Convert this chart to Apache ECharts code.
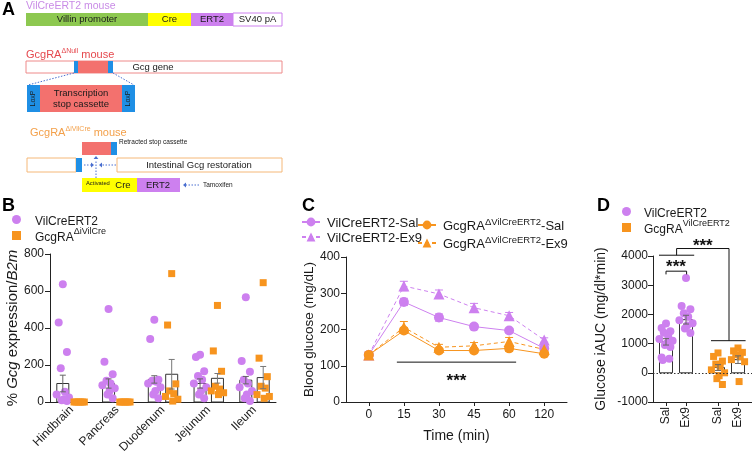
<!DOCTYPE html>
<html>
<head>
<meta charset="utf-8">
<script src="https://cdn.jsdelivr.net/npm/echarts@6/dist/echarts.min.js"></script>
<style>
  html, body { margin: 0; padding: 0; background: #fff; }
  #main { width: 752px; height: 457px; }
</style>
</head>
<body>
<div id="main"></div>
<script>
// ---- panel B: Gcg expression by region ----
const regions = ['Hindbrain', 'Pancreas', 'Duodenum', 'Jejunum', 'Ileum'];
const bVilMean = [100, 100, 122, 100, 118];
const bVilSem = [45, 25, 20, 25, 20];
const bGcgMean = [0, 0, 150, 128, 132];
const bGcgSem = [0, 0, 80, 26, 60];
const bVilPoints = [
  [636, 430, 270, 182, 55, 40, 25, 15, 10, 5],
  [503, 218, 150, 115, 100, 90, 75, 60, 40, 20],
  [444, 340, 120, 115, 110, 100, 80, 60, 40, 20],
  [256, 243, 166, 140, 120, 100, 80, 60, 40, 20],
  [566, 221, 164, 120, 100, 80, 60, 40, 20, 5]
];
const bGcgPoints = [
  [0, 0, 0, 0, 0, 0],
  [0, 0, 0, 0, 0, 0],
  [694, 416, 98, 60, 45, 30, 15, 5],
  [522, 276, 166, 85, 70, 60, 50, 40],
  [645, 237, 137, 85, 75, 40, 30, 20]
];

// ---- panel C: glucose tolerance ----
const times = ['0', '15', '30', '45', '60', '120'];
const vilSal = [130, 276, 233, 208, 197, 148];
const vilSalSem = [5, 10, 10, 7, 6, 5];
const vilEx9 = [130, 320, 298, 260, 238, 171];
const vilEx9Sem = [5, 13, 11, 12, 9, 6];
const gcgSal = [130, 197, 142, 142, 148, 133];
const gcgSalSem = [5, 8, 6, 6, 8, 5];
const gcgEx9 = [130, 206, 151, 155, 167, 145];
const gcgEx9Sem = [5, 16, 8, 9, 11, 6];

// ---- panel D: glucose iAUC ----
const dLabels = ['Sal', 'Ex9', 'Sal', 'Ex9'];
const dMean = [1060, 1820, 180, 450];
const dSem = [110, 150, 100, 130];
const dPoints = [
  [1690, 1530, 1420, 1370, 1260, 1160, 1100, 1020, 950, 880, 520, 480, 440],
  [3250, 2290, 2180, 2040, 1920, 1800, 1700, 1620, 1520, 1360],
  [680, 560, 400, 300, 220, 100, 0, -100, -200, -400],
  [850, 750, 700, 620, 550, 450, 380, -300]
];

const FONT = 'Liberation Sans, Arial, Helvetica, sans-serif';
const VIOLET = '#CD80EF';
const ORANGE = '#F7941E';
const BLUE = '#1F8FE5';
const SALMON = '#F3716E';
const INK = '#1a1a1a';
const DOT = '#4A6FD0';

// x slots on the value axes (group offsets inside a category)
const bOff = [-0.19, 0.19];
const dPos = [0, 1, 2.6, 3.6];
const JIT = [0, -1, 1, -0.5, 0.5, -1.5, 1.5, 0.25, -0.25, 1, -1, 0.75, -0.75];

// ---------- panel A diagram helpers ----------
function rect(x, y, w, h, fill, stroke) {
  return { type: 'rect', shape: { x: x, y: y, width: w, height: h }, style: { fill: fill, stroke: stroke || null, lineWidth: 1 } };
}
function txt(x, y, text, size, align, extra) {
  return Object.assign({
    type: 'text', x: x, y: y,
    style: { text: text, fontSize: size, fontFamily: FONT, fill: INK, align: align || 'left', verticalAlign: 'middle' }
  }, extra || {});
}
function dots(x1, y1, x2, y2) {
  return { type: 'line', shape: { x1: x1, y1: y1, x2: x2, y2: y2 }, style: { stroke: DOT, lineWidth: 1, lineDash: [1.5, 1.5] } };
}
function head(x, y, dir) {
  const s = 3;
  let pts;
  if (dir === 'left') pts = [[x, y], [x + s, y - 2.4], [x + s, y + 2.4]];
  if (dir === 'right') pts = [[x, y], [x - s, y - 2.4], [x - s, y + 2.4]];
  if (dir === 'up') pts = [[x, y], [x - 2.4, y + s], [x + 2.4, y + s]];
  return { type: 'polygon', shape: { points: pts }, style: { fill: DOT } };
}
function supTitle(x, y, base, sup, tail, color) {
  return {
    type: 'text', x: x, y: y,
    style: {
      text: '{b|' + base + '}{s|' + sup + '}{b|' + tail + '}',
      fontFamily: FONT, fill: color, verticalAlign: 'middle',
      rich: {
        b: { fontSize: 11, fill: color, fontFamily: FONT, lineHeight: 12, verticalAlign: 'bottom' },
        s: { fontSize: 7, fill: color, fontFamily: FONT, lineHeight: 8, verticalAlign: 'top' }
      }
    }
  };
}
function letter(x, y, t) {
  return { type: 'text', x: x, y: y, style: { text: t, fontSize: 18, fontWeight: 'bold', fontFamily: FONT, fill: '#000' } };
}

const vilParts = [
  { label: 'Villin promoter', w: 122, fill: '#8DC850' },
  { label: 'Cre', w: 43, fill: '#FFFF00' },
  { label: 'ERT2', w: 42, fill: VIOLET },
  { label: 'SV40 pA', w: 49, fill: '#FFFFFF' }
];

const diagram = [letter(2, 1, 'A'), letter(2, 197, 'B'), letter(302, 197, 'C'), letter(597, 197, 'D')];
diagram.push({ type: 'text', x: 26, y: 6.5, style: { text: 'VilCreERT2 mouse', fontSize: 10.5, fontFamily: FONT, fill: '#C98BE6', verticalAlign: 'middle' } });
let px = 26;
vilParts.forEach(function (p) {
  diagram.push(rect(px, 13, p.w, 13, p.fill, p.fill === '#FFFFFF' ? VIOLET : null));
  diagram.push(txt(px + p.w / 2, 19.5, p.label, 9.5, 'center'));
  px += p.w;
});
diagram.push(
  supTitle(26, 54, 'GcgRA', 'ΔNull', ' mouse', '#E5484D'),
  rect(26, 61, 256, 12, '#fff', '#EE8A8A'),
  rect(74, 61, 4, 12, BLUE), rect(78, 61, 30, 12, SALMON), rect(108, 61, 5, 12, BLUE),
  txt(153, 67, 'Gcg gene', 9.5, 'center'),
  dots(74, 73, 28, 85), dots(113, 73, 134, 85),
  rect(27, 85, 13, 27, BLUE), rect(40, 85, 82, 27, SALMON), rect(122, 85, 13, 27, BLUE),
  txt(81, 93.5, 'Transcription', 9.5, 'center'), txt(81, 104.5, 'stop cassette', 9.5, 'center'),
  txt(33.5, 98.5, 'LoxP', 7, 'center', { rotation: Math.PI / 2 }),
  txt(128.5, 98.5, 'LoxP', 7, 'center', { rotation: Math.PI / 2 }),
  supTitle(30, 132, 'GcgRA', 'ΔiVilCre', ' mouse', '#F3A04A'),
  rect(82, 142, 29, 13, SALMON), rect(111, 142, 6, 13, BLUE),
  txt(119, 142.5, 'Retracted stop cassette', 6.5),
  rect(27, 158, 49, 14, '#fff', '#F5B878'), rect(76, 158, 6, 14, BLUE),
  rect(117, 158, 165, 14, '#fff', '#F5B878'),
  txt(199, 165, 'Intestinal Gcg restoration', 9.5, 'center'),
  dots(84, 165, 91, 165), head(94, 165, 'right'),
  dots(116, 165, 102, 165), head(99, 165, 'left'),
  dots(96, 178, 96, 160), head(96, 156, 'up'),
  rect(82, 178, 55, 14, '#FFFF00'), rect(137, 178, 43, 14, VIOLET),
  txt(86, 183, 'Activated', 5.8), txt(123, 185.5, 'Cre', 9.5, 'center'), txt(158, 185, 'ERT2', 9.5, 'center'),
  dots(199, 185, 186, 185), head(183, 185, 'left'),
  txt(203, 185, 'Tamoxifen', 6.5)
);

// ---------- chart helpers ----------
function boxSeries(ai, data, halfW) {
  return {
    type: 'custom', xAxisIndex: ai, yAxisIndex: ai, z: 1, silent: true, data: data,
    renderItem: function (params, api) {
      const p0 = api.coord([api.value(0), 0]);
      const p1 = api.coord([api.value(0), api.value(1)]);
      return {
        type: 'rect',
        shape: { x: p0[0] - halfW, y: Math.min(p0[1], p1[1]), width: halfW * 2, height: Math.abs(p1[1] - p0[1]) },
        style: { fill: '#fff', stroke: '#333', lineWidth: 1 }
      };
    }
  };
}
function errSeries(ai, data, color, cap, z) {
  return {
    type: 'custom', xAxisIndex: ai, yAxisIndex: ai, z: z || 5, silent: true, data: data,
    renderItem: function (params, api) {
      const x = api.value(0), m = api.value(1), s = api.value(2);
      if (!s) return null;
      const hi = api.coord([x, m + s]), lo = api.coord([x, m - s]);
      const st = { stroke: color, lineWidth: 1 };
      return {
        type: 'group', children: [
          { type: 'line', shape: { x1: hi[0], y1: hi[1], x2: lo[0], y2: lo[1] }, style: st },
          { type: 'line', shape: { x1: hi[0] - cap, y1: hi[1], x2: hi[0] + cap, y2: hi[1] }, style: st },
          { type: 'line', shape: { x1: lo[0] - cap, y1: lo[1], x2: lo[0] + cap, y2: lo[1] }, style: st }
        ]
      };
    }
  };
}
// significance marks: segments [[x1,y1,x2,y2],...] and stars [x,y] in data units
function sigSeries(ai, segs, stars) {
  return {
    type: 'custom', xAxisIndex: ai, yAxisIndex: ai, z: 6, silent: true, data: [0],
    renderItem: function (params, api) {
      const kids = segs.map(function (s) {
        const a = api.coord([s[0], s[1]]), b = api.coord([s[2], s[3]]);
        return { type: 'line', shape: { x1: a[0], y1: a[1], x2: b[0], y2: b[1] }, style: { stroke: '#111', lineWidth: 1 } };
      });
      stars.forEach(function (s) {
        const c = api.coord(s);
        kids.push({ type: 'text', x: c[0], y: c[1] + 4, style: { text: '***', fontSize: 17, fontWeight: 'bold', fontFamily: FONT, fill: '#111', align: 'center', verticalAlign: 'middle' } });
      });
      return { type: 'group', children: kids };
    }
  };
}

const axisLineStyle = { color: '#222', width: 1 };
const tickLabel = { fontSize: 12, color: INK, fontFamily: FONT };
const plainNum = function (v) { return String(v); };

const legendRich = {
  b: { fontSize: 12, fontFamily: FONT, color: INK, lineHeight: 16, verticalAlign: 'bottom' },
  s: { fontSize: 9, fontFamily: FONT, color: INK, lineHeight: 10, verticalAlign: 'top' },
  c: { fontSize: 13, fontFamily: FONT, color: INK, lineHeight: 16, verticalAlign: 'bottom' },
  cs: { fontSize: 9.5, fontFamily: FONT, color: INK, lineHeight: 10, verticalAlign: 'top' }
};
const legendText = {
  'VilCreERT2': '{b|VilCreERT2}',
  'GcgRA-iVil': '{b|GcgRA}{s|ΔiVilCre}',
  'GcgRA-VilERT2': '{b|GcgRA}{s|VilCreERT2}',
  'VilCreERT2-Sal': '{c|VilCreERT2-Sal}',
  'VilCreERT2-Ex9': '{c|VilCreERT2-Ex9}',
  'Gcg-Sal': '{c|GcgRA}{cs|ΔVilCreERT2}{c|-Sal}',
  'Gcg-Ex9': '{c|GcgRA}{cs|ΔVilCreERT2}{c|-Ex9}'
};
function legend(left, top, items, iw, ih, gap, padLeft) {
  return {
    left: left, top: top, orient: 'vertical', itemWidth: iw, itemHeight: ih, itemGap: gap,
    selectedMode: false, data: items, padding: 0,
    formatter: function (n) { return legendText[n]; },
    textStyle: { fontFamily: FONT, color: INK, padding: [0, 0, 0, padLeft], rich: legendRich }
  };
}

// ---------- build series data ----------
const bVilBox = regions.map(function (r, i) { return [i + bOff[0], bVilMean[i], bVilSem[i]]; });
const bGcgBox = regions.map(function (r, i) { return [i + bOff[1], bGcgMean[i], bGcgSem[i]]; });
const bVilScatter = [], bGcgScatter = [];
bVilPoints.forEach(function (list, i) { list.forEach(function (v, j) { bVilScatter.push([i + bOff[0] + JIT[j % JIT.length] * 0.09, v]); }); });
bGcgPoints.forEach(function (list, i) { list.forEach(function (v, j) { bGcgScatter.push([i + bOff[1] + JIT[j % JIT.length] * 0.09, v]); }); });

const dBox = dPos.map(function (p, i) { return [p, dMean[i], dSem[i]]; });
const dVilScatter = [], dGcgScatter = [];
dPoints.forEach(function (list, i) {
  list.forEach(function (v, j) {
    (i < 2 ? dVilScatter : dGcgScatter).push([dPos[i] + JIT[j % JIT.length] * 0.22, v]);
  });
});

function lineData(vals) { return vals.map(function (v, i) { return [i, v]; }); }
function errData(vals, sem) { return vals.map(function (v, i) { return [i, v, sem[i]]; }); }

const chart = echarts.init(document.getElementById('main'));
chart.setOption({
  animation: false,
  textStyle: { fontFamily: FONT },
  graphic: diagram,
  legend: [
    legend(12, 215, [{ name: 'VilCreERT2', icon: 'circle' }, { name: 'GcgRA-iVil', icon: 'rect' }], 9, 9, 0, 9),
    legend(301, 217, ['VilCreERT2-Sal', 'VilCreERT2-Ex9'], 18, 11, 2, 2),
    legend(417, 217, ['Gcg-Sal', 'Gcg-Ex9'], 18, 11, 2, 2),
    legend(622, 207, [{ name: 'VilCreERT2', icon: 'circle' }, { name: 'GcgRA-VilERT2', icon: 'rect' }], 9, 9, 0, 8)
  ],
  grid: [
    { left: 50, top: 254, width: 226, height: 148 },
    { left: 346, top: 257, width: 221, height: 145 },
    { left: 653, top: 256, width: 99, height: 146 }
  ],
  xAxis: [
    {
      gridIndex: 0, type: 'value', min: -0.47, max: 4.47,
      splitLine: { show: false },
      axisLine: { onZero: false, lineStyle: axisLineStyle },
      axisTick: { show: false },
      axisLabel: Object.assign({ customValues: [0, 1, 2, 3, 4], formatter: function (v) { return regions[v]; }, rotate: 45, margin: 6 }, tickLabel)
    },
    {
      gridIndex: 1, type: 'value', min: -0.65, max: 5.65,
      splitLine: { show: false },
      axisLine: { onZero: false, lineStyle: axisLineStyle },
      axisTick: { show: true, customValues: [0, 1, 2, 3, 4, 5], length: 4, lineStyle: axisLineStyle },
      axisLabel: Object.assign({ customValues: [0, 1, 2, 3, 4, 5], formatter: function (v) { return times[v]; }, margin: 7 }, tickLabel),
      name: 'Time (min)', nameLocation: 'middle', nameGap: 27,
      nameTextStyle: { fontSize: 14, color: INK, fontFamily: FONT }
    },
    {
      gridIndex: 2, type: 'value', min: -0.65, max: 4.3,
      splitLine: { show: false },
      axisLine: { onZero: false, lineStyle: axisLineStyle },
      axisTick: { show: true, customValues: dPos, length: 4, lineStyle: axisLineStyle },
      axisLabel: Object.assign({ customValues: dPos, formatter: function (v) { return dLabels[dPos.indexOf(v)]; }, rotate: 90, margin: 5 }, tickLabel)
    }
  ],
  yAxis: [
    {
      gridIndex: 0, type: 'value', min: 0, max: 800, interval: 200,
      splitLine: { show: false },
      axisLine: { show: true, onZero: false, lineStyle: axisLineStyle },
      axisTick: { show: true, length: 5, lineStyle: axisLineStyle },
      axisLabel: Object.assign({ margin: 6, formatter: plainNum }, tickLabel),
      name: '{n|% }{i|Gcg}{n| expression/}{i|B2m}', nameLocation: 'middle', nameGap: 29,
      nameTextStyle: { fontFamily: FONT, color: INK, fontSize: 15, rich: { n: { fontSize: 15, fontFamily: FONT, color: INK }, i: { fontSize: 15, fontFamily: FONT, color: INK, fontStyle: 'italic' } } }
    },
    {
      gridIndex: 1, type: 'value', min: 0, max: 400, interval: 100,
      splitLine: { show: false },
      axisLine: { show: true, onZero: false, lineStyle: axisLineStyle },
      axisTick: { show: true, length: 5, lineStyle: axisLineStyle },
      axisLabel: Object.assign({ margin: 6, formatter: plainNum }, tickLabel),
      name: 'Blood glucose (mg/dL)', nameLocation: 'middle', nameGap: 30,
      nameTextStyle: { fontSize: 13.5, color: INK, fontFamily: FONT }
    },
    {
      gridIndex: 2, type: 'value', min: -1000, max: 4000, interval: 1000,
      splitLine: { show: false },
      axisLine: { show: true, onZero: false, lineStyle: axisLineStyle },
      axisTick: { show: true, length: 5, lineStyle: axisLineStyle },
      axisLabel: Object.assign({ margin: 5, formatter: plainNum }, tickLabel),
      name: 'Glucose iAUC (mg/dl*min)', nameLocation: 'middle', nameGap: 45,
      nameTextStyle: { fontSize: 14, color: INK, fontFamily: FONT }
    }
  ],
  series: [
    // panel B
    boxSeries(0, bVilBox, 6),
    boxSeries(0, bGcgBox, 6),
    { type: 'scatter', name: 'VilCreERT2', xAxisIndex: 0, yAxisIndex: 0, z: 3, symbol: 'circle', symbolSize: 8, itemStyle: { color: VIOLET, opacity: 1 }, data: bVilScatter },
    { type: 'scatter', name: 'GcgRA-iVil', xAxisIndex: 0, yAxisIndex: 0, z: 3, symbol: 'rect', symbolSize: 7, itemStyle: { color: ORANGE, opacity: 1 }, data: bGcgScatter },
    errSeries(0, bVilBox, '#666', 3),
    errSeries(0, bGcgBox, '#777', 3),

    // panel C
    errSeries(1, errData(vilSal, vilSalSem), VIOLET, 4, 2),
    errSeries(1, errData(vilEx9, vilEx9Sem), VIOLET, 4, 2),
    errSeries(1, errData(gcgSal, gcgSalSem), ORANGE, 4, 2),
    errSeries(1, errData(gcgEx9, gcgEx9Sem), ORANGE, 4, 2),
    { type: 'line', name: 'VilCreERT2-Sal', xAxisIndex: 1, yAxisIndex: 1, z: 3, symbol: 'circle', symbolSize: 10, lineStyle: { color: VIOLET, width: 1 }, itemStyle: { color: VIOLET }, data: lineData(vilSal) },
    { type: 'line', name: 'VilCreERT2-Ex9', xAxisIndex: 1, yAxisIndex: 1, z: 3, symbol: 'triangle', symbolSize: 11, lineStyle: { color: VIOLET, width: 1, type: [4, 3] }, itemStyle: { color: VIOLET }, data: lineData(vilEx9) },
    { type: 'line', name: 'Gcg-Sal', xAxisIndex: 1, yAxisIndex: 1, z: 4, symbol: 'circle', symbolSize: 10, lineStyle: { color: ORANGE, width: 1 }, itemStyle: { color: ORANGE }, data: lineData(gcgSal) },
    { type: 'line', name: 'Gcg-Ex9', xAxisIndex: 1, yAxisIndex: 1, z: 4, symbol: 'triangle', symbolSize: 11, lineStyle: { color: ORANGE, width: 1, type: [4, 3] }, itemStyle: { color: ORANGE }, data: lineData(gcgEx9) },
    sigSeries(1, [[0.8, 110, 4.2, 110]], [[2.5, 67]]),

    // panel D
    Object.assign(boxSeries(2, dBox, 6.5), {
      markLine: { silent: true, symbol: 'none', label: { show: false }, lineStyle: { color: '#333', width: 1, type: [1.5, 2] }, data: [{ yAxis: 0 }] }
    }),
    { type: 'scatter', name: 'VilCreERT2', xAxisIndex: 2, yAxisIndex: 2, z: 3, symbol: 'circle', symbolSize: 8, itemStyle: { color: VIOLET, opacity: 1 }, data: dVilScatter },
    { type: 'scatter', name: 'GcgRA-VilERT2', xAxisIndex: 2, yAxisIndex: 2, z: 3, symbol: 'rect', symbolSize: 7, itemStyle: { color: ORANGE, opacity: 1 }, data: dGcgScatter },
    errSeries(2, dBox, '#666', 3),
    sigSeries(2, [
      [0, 3370, 0, 3480], [0, 3480, 1.03, 3480], [1.03, 3480, 1.03, 3370],
      [-0.35, 4027, 1.41, 4027], [0.53, 4027, 0.53, 4256], [0.53, 4256, 3.15, 4256],
      [3.15, 4256, 3.15, 1100], [2.25, 1100, 3.98, 1100]
    ], [[0.5, 3744], [1.84, 4481]])
  ]
});
</script>
</body>
</html>
